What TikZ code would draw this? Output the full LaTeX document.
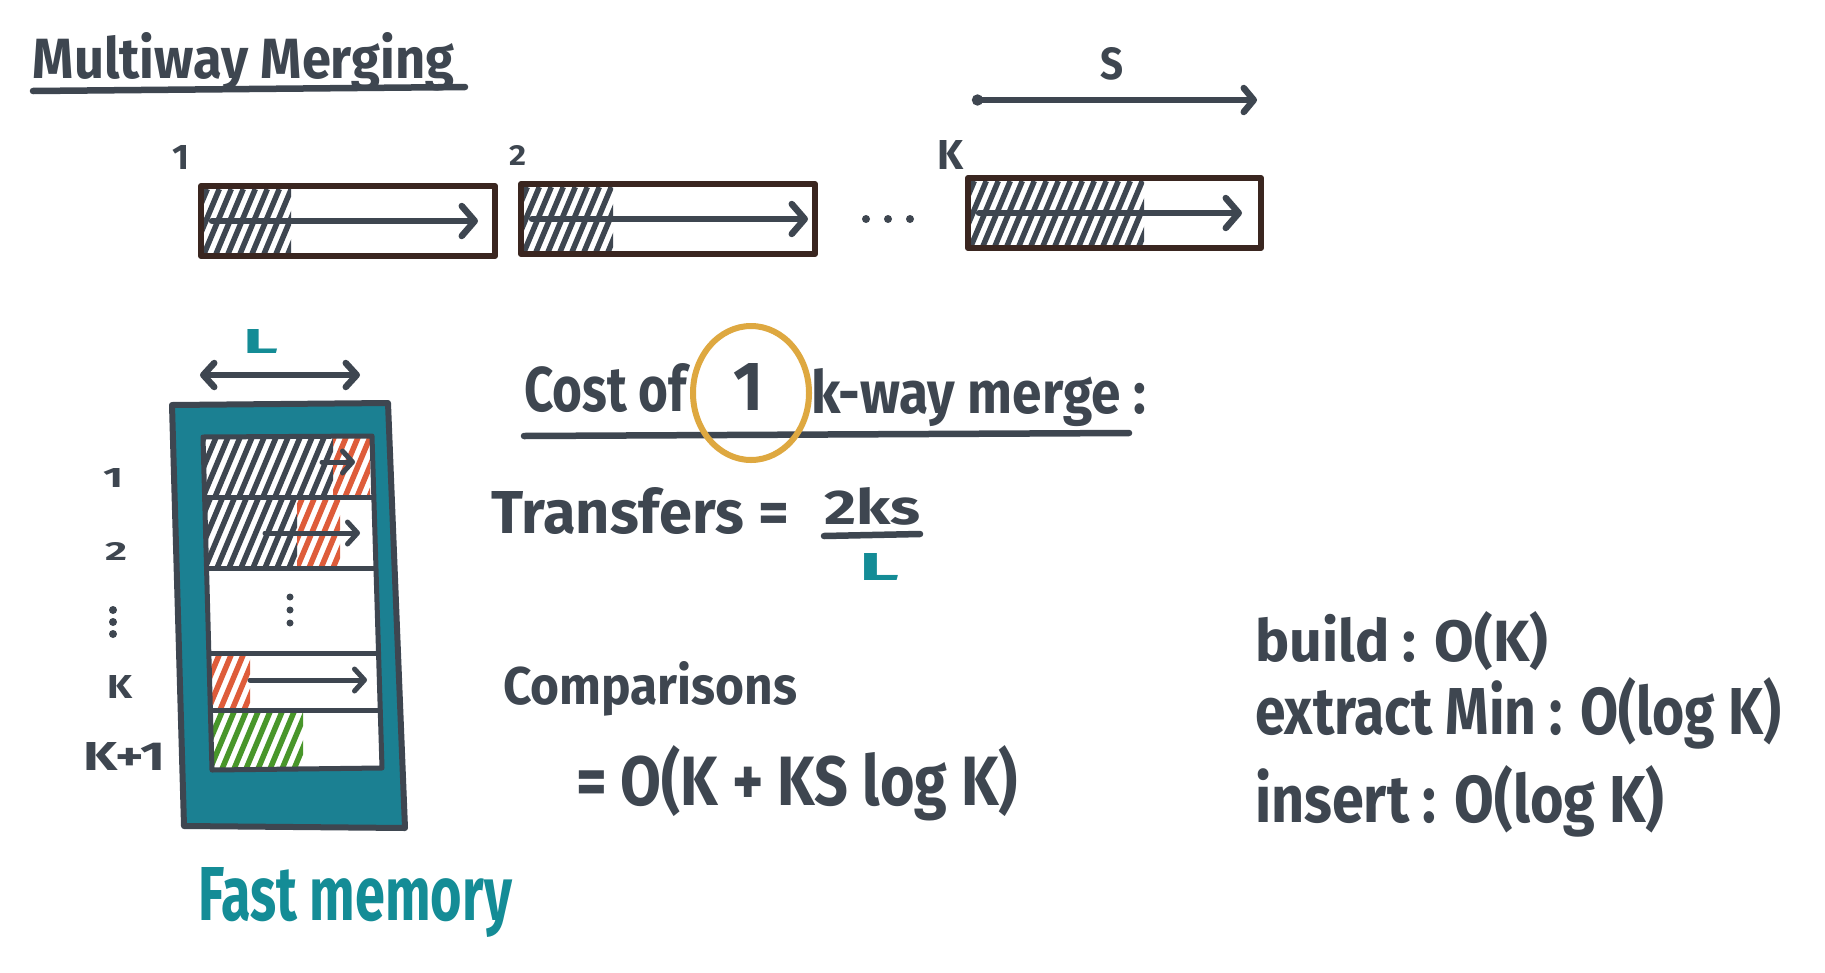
\documentclass[tikz,border=0pt]{standalone}
\usepackage{fontspec}
\setmainfont{Fira Sans}
\usepackage{graphicx}
\usetikzlibrary{arrows.meta,shapes.geometric}

\definecolor{ink}{RGB}{62,70,80}
\definecolor{boxline}{RGB}{58,38,32}
\definecolor{tealc}{RGB}{27,128,146}
\definecolor{tealtxt}{RGB}{20,140,150}
\definecolor{redh}{RGB}{222,92,58}
\definecolor{greenh}{RGB}{72,150,42}
\definecolor{orangec}{RGB}{222,168,64}

\newcommand{\hw}[3]{\resizebox{#1pt}{#2pt}{\bfseries #3}}
% x1, y1 (top), x2, y2 (bottom), colour, spacing
\newcommand{\hatchfill}[6]{%
  \begin{scope}
    \clip (#1,#2) rectangle (#3,#4);
    \foreach \i in {-6,...,24} {
      \draw[#5, line width=5.5pt] ({#1+\i*#6},#4) -- ({#1+\i*#6+0.42*(#4-#2)},#2);
    }
  \end{scope}}

\tikzset{
  txt/.style={anchor=base west, inner sep=0pt, outer sep=0pt, text=ink},
  stroke/.style={draw=ink, line width=6.5pt, line cap=round, line join=round},
  harrow/.style={stroke, -{Straight Barb[round, length=13pt, width=30pt]}},
  smarrow/.style={draw=ink, line width=5pt, line cap=round, -{Straight Barb[round, length=10pt, width=22pt]}},
  listbox/.style={draw=boxline, line width=6pt, rectangle, inner sep=0pt, line join=round},
}

\begin{document}
\begin{tikzpicture}[x=1pt, y=-1pt]
\useasboundingbox (0,0) rectangle (1825,972);
\fill[white] (0,0) rectangle (1825,972);

% title
\node[txt] (title) at (33,78) {\hw{421}{46}{Multiway Merging}};
\draw[stroke] (33,91) -- (465,87);

% top lists
\node[txt] (n1) at (172,169) {\hw{17}{24}{1}};
\node[txt] (n2) at (509,165) {\hw{17}{20}{2}};
\node[txt] (nk) at (937,169) {\hw{26}{29}{K}};

\hatchfill{204}{189}{291}{254}{ink}{12}
\node[listbox, minimum width=294pt, minimum height=70pt] (b1) at (348,221) {};
\draw[harrow] ([xshift=14pt]b1.west) -- ([xshift=-20pt]b1.east);

\hatchfill{524}{187}{613}{252}{ink}{12}
\node[listbox, minimum width=294pt, minimum height=70pt] (b2) at (668,219) {};
\draw[harrow] ([xshift=14pt]b2.west) -- ([xshift=-10pt]b2.east);

\fill[ink] (866,219) circle (4) (888,219) circle (4) (910,219) circle (4);

\hatchfill{971}{181}{1144}{246}{ink}{12}
\node[listbox, minimum width=293pt, minimum height=70pt] (bk) at (1114.5,213) {};
\draw[harrow] ([xshift=14pt]bk.west) -- ([xshift=-22pt]bk.east);

% S span
\node[txt] (slab) at (1100,79) {\hw{23}{32}{S}};
\coordinate (s0) at (972,100);
\coordinate (s1) at (1257,100);
\draw[stroke, {Circle[length=11pt]}-{Straight Barb[round, length=10pt, width=24pt]}] (s0) -- (s1);

% L span
\node[txt, text=tealtxt] (Ltop) at (243,353) {\hw{35}{24}{L}};
\coordinate (l0) at (200,375);
\coordinate (l1) at (360,375);
\draw[stroke, {Straight Barb[round, length=11pt, width=24pt]}-{Straight Barb[round, length=11pt, width=24pt]}] (l0) -- (l1);

% fast memory
\draw[draw=ink, fill=tealc, line width=6pt, line join=round] (172,405) -- (388,403) -- (405,828) -- (184,826) -- cycle;
\fill[white] (203,437) -- (372,436) -- (382,768) -- (212,770) -- cycle;
\hatchfill{203}{437}{333}{497}{ink}{12}
\hatchfill{333}{437}{370}{497}{redh}{12}
\hatchfill{205}{497}{297}{568}{ink}{12}
\hatchfill{297}{497}{340}{568}{redh}{12}
\hatchfill{208}{653}{250}{710}{redh}{12}
\hatchfill{210}{710}{303}{769}{greenh}{12}
\draw[draw=ink, line width=5pt, line join=round] (203,437) -- (372,436) -- (382,768) -- (212,770) -- cycle;
\draw[draw=ink, line width=5pt] (204.6,497) -- (373.8,497);
\draw[draw=ink, line width=5pt] (206.5,568) -- (376,568);
\draw[draw=ink, line width=5pt] (208.8,653) -- (378.5,653);
\draw[draw=ink, line width=5pt] (210.4,710) -- (380.2,710);
\coordinate (r1a) at (322,462); \coordinate (r1b) at (355,462);
\draw[smarrow] (r1a) -- (r1b);
\coordinate (r2a) at (265,533); \coordinate (r2b) at (360,533);
\draw[smarrow] (r2a) -- (r2b);
\coordinate (rka) at (250,680); \coordinate (rkb) at (367,680);
\draw[smarrow] (rka) -- (rkb);
\fill[ink] (290,597) circle (3.5) (290,610) circle (3.5) (290,623) circle (3.5);

\node[txt] (m1) at (103,487) {\hw{20}{19}{1}};
\node[txt] (m2) at (105,560) {\hw{22}{18}{2}};
\fill[ink] (113,610) circle (4) (113,622) circle (4) (113,634) circle (4);
\node[txt] (mk) at (107,698) {\hw{25}{23}{K}};
\node[txt] (mk1) at (83,770) {\hw{82}{28}{K+1}};
\node[txt, text=tealtxt] (fast) at (198,920) {\hw{314}{53}{Fast memory}};

% cost heading
\node[txt] (cost) at (524,411) {\hw{163}{48}{Cost of}};
\node[txt] (one) at (733,410) {\hw{30}{47}{1}};
\node[txt] (kway) at (811,413) {\hw{335}{45}{k-way merge :}};
\draw[stroke] (524,436) -- (1129,433);
\node[draw=orangec, line width=6pt, ellipse, inner sep=0pt, minimum width=116pt, minimum height=134pt] (circ) at (751,393) {};

% transfers
\node[txt] (transfers) at (491,533) {\hw{298}{46}{Transfers =}};
\node[txt] (num) at (824,524) {\hw{96}{37}{2ks}};
\draw[stroke] (824,536) -- (920,534);
\node[txt, text=tealtxt] (den) at (859,580) {\hw{40}{27}{L}};

% comparisons
\node[txt] (comp) at (503,704) {\hw{294}{43}{Comparisons}};
\node[txt] (cexpr) at (576,805) {\hw{442}{60}{= O(K + KS log K)}};

% heap ops
\node[txt] (build) at (1255,661) {\hw{293}{50}{build : O(K)}};
\node[txt] (extract) at (1255,734) {\hw{526}{57}{extract Min : O(log K)}};
\node[txt] (insert) at (1255,822) {\hw{409}{57}{insert : O(log K)}};
\end{tikzpicture}
\end{document}
